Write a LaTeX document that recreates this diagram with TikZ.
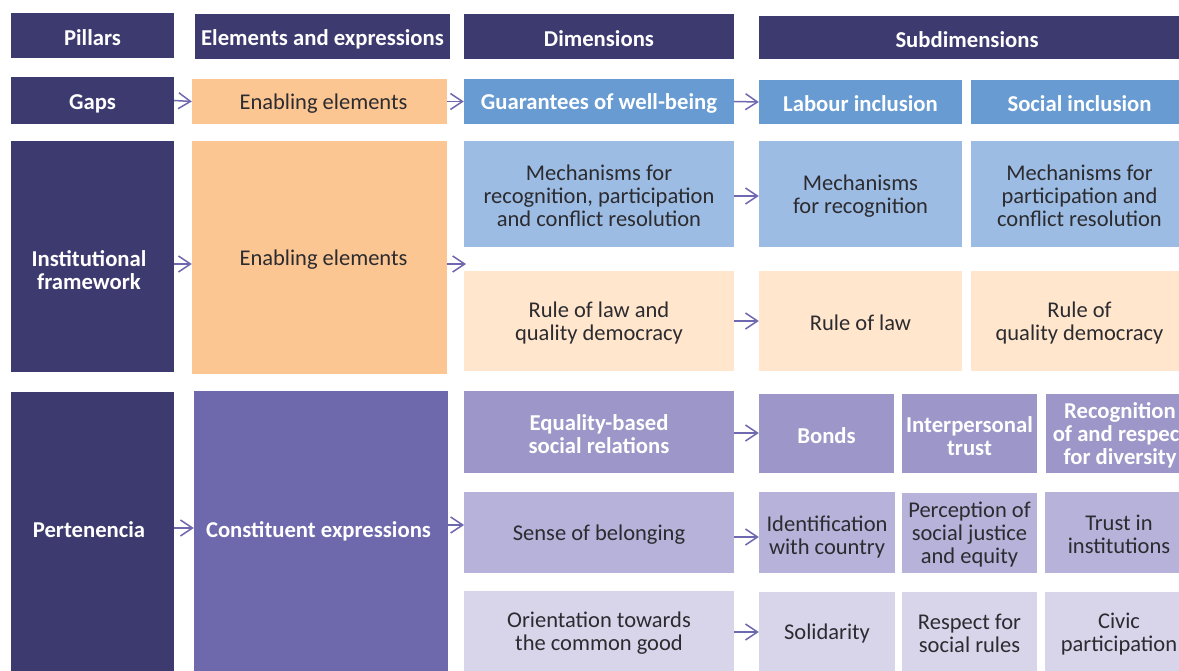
\documentclass[tikz,border=0pt]{standalone}
\usepackage{fontspec}
\setmainfont{Carlito}
\usetikzlibrary{arrows.meta}
\definecolor{navy}{HTML}{3D3A6F}
\definecolor{orangeA}{HTML}{FCC693}
\definecolor{peach}{HTML}{FFE6CC}
\definecolor{blueA}{HTML}{679BD2}
\definecolor{blueB}{HTML}{9DBCE3}
\definecolor{purpA}{HTML}{6E68AD}
\definecolor{purpB}{HTML}{9D96C8}
\definecolor{purpC}{HTML}{B6B2D9}
\definecolor{purpD}{HTML}{D8D5EB}
\definecolor{ink}{HTML}{2B2B30}
\definecolor{arrowc}{HTML}{6E68B0}
\begin{document}
\begin{tikzpicture}[x=1pt,y=-1pt,
  box/.style={rectangle, inner sep=0pt, draw=none},
  txt/.style={align=center, inner sep=0pt, yshift=-2pt, text=ink,
    font={\fontsize{22.5}{23}\selectfont}},
  btxt/.style={align=center, inner sep=0pt, yshift=-2pt, text=white,
    font={\fontsize{22.7}{23}\selectfont\bfseries}},
  arr/.style={draw=arrowc, line width=1.5pt,
    -{Straight Barb[length=12pt,width=16pt,line width=1.5pt]}}]
\useasboundingbox (0,0) rectangle (1179,671);
\clip (0,0) rectangle (1179,671);

% header row
\node[box,fill=navy,minimum width=163pt,minimum height=45pt,label={[btxt]center:Pillars}] (hP) at (92.5,35.5) {};
\node[box,fill=navy,minimum width=255pt,minimum height=45pt,label={[btxt,yshift=-1pt]center:Elements and expressions}] (hE) at (322.5,36.5) {};
\node[box,fill=navy,minimum width=270pt,minimum height=45pt,label={[btxt]center:Dimensions}] (hD) at (599,36.5) {};
\node[box,fill=navy,minimum width=420pt,minimum height=43pt,label={[btxt,xshift=-2pt]center:Subdimensions}] (hS) at (969,37.5) {};

% gaps row
\node[box,fill=navy,minimum width=163pt,minimum height=47pt,label={[btxt,yshift=-1pt]center:Gaps}] (gaps) at (92.5,100.5) {};
\node[box,fill=orangeA,minimum width=255pt,minimum height=45pt,label={[txt,xshift=4pt]center:Enabling elements}] (en1) at (319.5,101.5) {};
\node[box,fill=blueA,minimum width=270pt,minimum height=45pt,label={[btxt]center:Guarantees of well-being}] (gw) at (599,101.5) {};
\node[box,fill=blueA,minimum width=203pt,minimum height=44pt,label={[btxt]center:Labour inclusion}] (li) at (860.5,102) {};
\node[box,fill=blueA,minimum width=217pt,minimum height=44pt,label={[btxt]center:Social inclusion}] (si) at (1079.5,102) {};

% institutional framework row
\node[box,fill=navy,minimum width=163pt,minimum height=231pt,label={[btxt,yshift=-12pt,xshift=-3.5pt]center:{Institutional\\framework}}] (inst) at (92.5,256.5) {};
\node[box,fill=orangeA,minimum width=255pt,minimum height=233pt,label={[txt,xshift=4pt]center:Enabling elements}] (en2) at (319.5,257.5) {};
\node[box,fill=blueB,minimum width=270pt,minimum height=106pt,label={[txt]center:{Mechanisms for\\recognition, participation\\and conflict resolution}}] (mech) at (599,194) {};
\node[box,fill=peach,minimum width=270pt,minimum height=100pt,label={[txt]center:{Rule of law and\\quality democracy}}] (rol) at (599,321) {};
\node[box,fill=blueB,minimum width=203pt,minimum height=106pt,label={[txt]center:{Mechanisms\\for recognition}}] (mrec) at (860.5,194) {};
\node[box,fill=blueB,minimum width=217pt,minimum height=106pt,label={[txt]center:{Mechanisms for\\participation and\\conflict resolution}}] (mpart) at (1079.5,194) {};
\node[box,fill=peach,minimum width=203pt,minimum height=100pt,label={[txt]center:Rule of law}] (rl) at (860.5,321) {};
\node[box,fill=peach,minimum width=217pt,minimum height=100pt,label={[txt]center:{Rule of\\quality democracy}}] (rqd) at (1079.5,321) {};
\coordinate (gapmid) at (466,264);

% pertenencia row
\node[box,fill=navy,minimum width=163pt,minimum height=279pt,label={[btxt,yshift=4pt,xshift=-3.5pt]center:Pertenencia}] (pert) at (92.5,531.5) {};
\node[box,fill=purpA,minimum width=254pt,minimum height=280pt,label={[btxt,yshift=2pt,xshift=-2.5pt]center:Constituent expressions}] (cons) at (321,531) {};
\node[box,fill=purpB,minimum width=270pt,minimum height=82pt,label={[btxt]center:{Equality-based\\social relations}}] (eq) at (599,432) {};
\node[box,fill=purpC,minimum width=270pt,minimum height=81pt,label={[txt]center:Sense of belonging}] (sb) at (599,532.5) {};
\node[box,fill=purpD,minimum width=270pt,minimum height=80pt,label={[txt]center:{Orientation towards\\the common good}}] (ori) at (599,631) {};
\coordinate (consend) at (464,525);

\node[box,fill=purpB,minimum width=135pt,minimum height=79pt,label={[btxt]center:Bonds}] (bonds) at (826.5,433.5) {};
\node[box,fill=purpB,minimum width=135pt,minimum height=79pt,label={[btxt,yshift=-1pt]center:{Interpersonal\\trust}}] (itrust) at (969.5,433.5) {};
\node[box,fill=purpB,minimum width=148pt,minimum height=79pt,label={[btxt]center:{Recognition\\of and respect\\for diversity}}] (recog) at (1120,433.5) {};

\node[box,fill=purpC,minimum width=136pt,minimum height=81pt,label={[txt,yshift=-2pt]center:{Identification\\with country}}] (ident) at (827,532.5) {};
\node[box,fill=purpC,minimum width=135pt,minimum height=80pt,label={[txt]center:{Perception of\\social justice\\and equity}}] (perc) at (969.5,533) {};
\node[box,fill=purpC,minimum width=148pt,minimum height=81pt,label={[txt]center:{Trust in\\institutions}}] (trustin) at (1119,532.5) {};

\node[box,fill=purpD,minimum width=136pt,minimum height=79pt,label={[txt]center:Solidarity}] (sol) at (827,631.5) {};
\node[box,fill=purpD,minimum width=135pt,minimum height=79pt,label={[txt]center:{Respect for\\social rules}}] (resp) at (969.5,631.5) {};
\node[box,fill=purpD,minimum width=148pt,minimum height=79pt,label={[txt,yshift=-1pt]center:{Civic\\participation}}] (civic) at (1119,631.5) {};

% connectors
\draw[arr] (gaps.east) -- (en1.west);
\draw[arr] (en1.east) -- (gw.west);
\draw[arr] (gw.east) -- (li.west);
\draw[arr] ([yshift=-7.5pt]inst.east) -- ([yshift=-6.5pt]en2.west);
\draw[arr] ([yshift=-6.5pt]en2.east) -- (gapmid);
\draw[arr] ([yshift=-2pt]mech.east) -- ([yshift=-2pt]mrec.west);
\draw[arr] (rol.east) -- (rl.west);
\draw[arr] ([yshift=3.5pt]pert.east) -- ([yshift=3pt]cons.west);
\draw[arr] ([yshift=6pt]cons.east) -- (consend);
\draw[arr] ([yshift=-1pt]eq.east) -- ([yshift=0.5pt]bonds.west);
\draw[arr] ([yshift=-4.5pt]sb.east) -- ([yshift=-4.5pt]ident.west);
\draw[arr] ([yshift=-1pt]ori.east) -- ([yshift=-0.5pt]sol.west);
\end{tikzpicture}
\end{document}
